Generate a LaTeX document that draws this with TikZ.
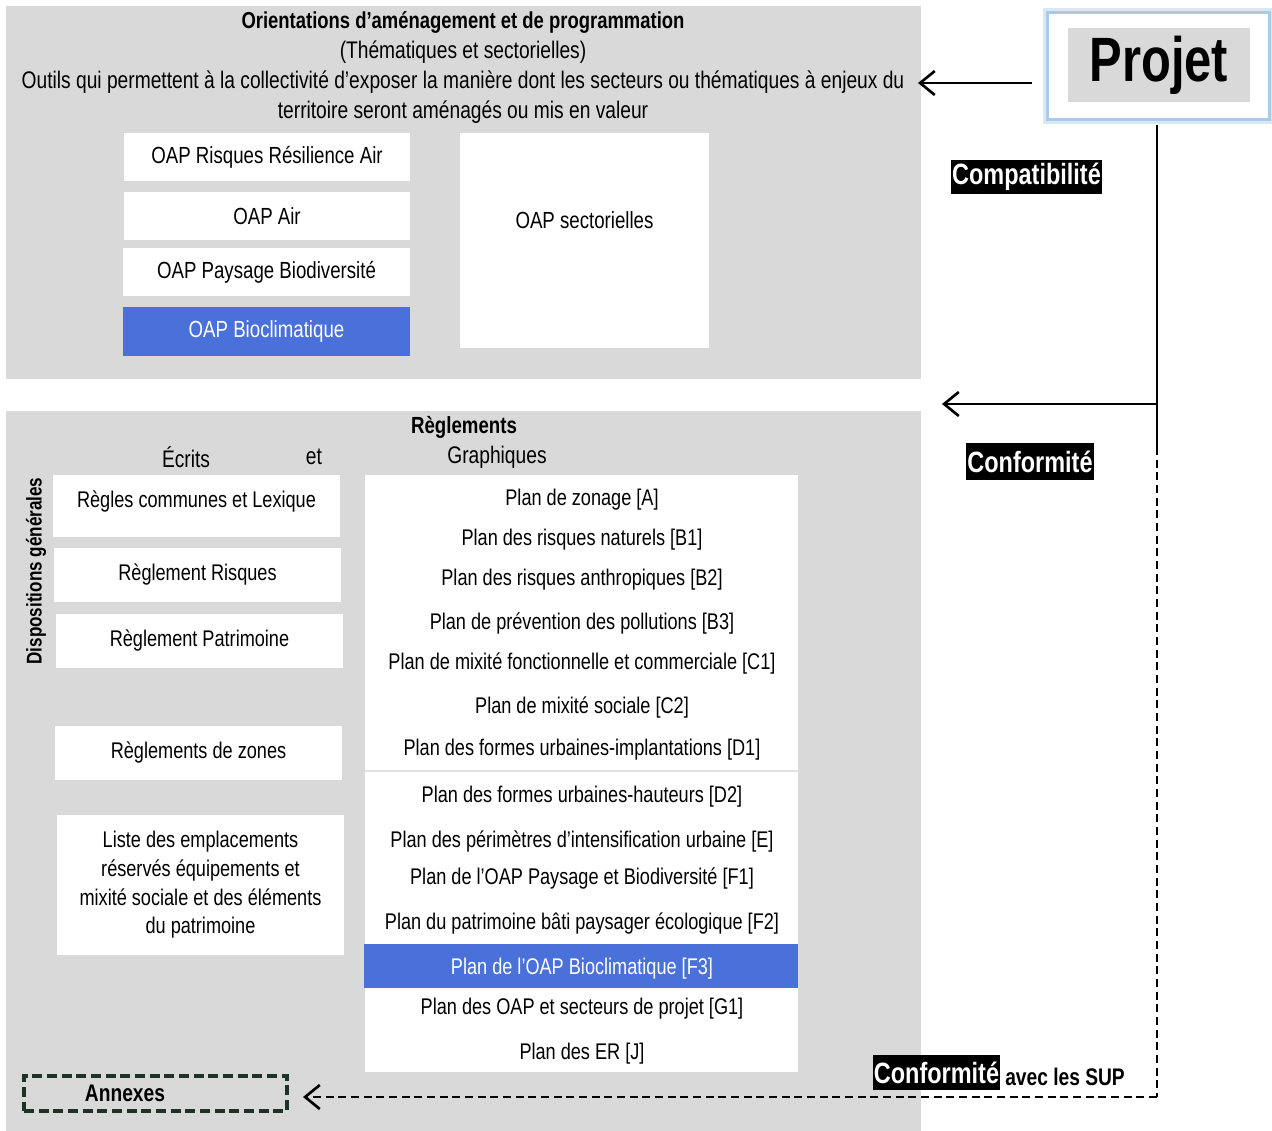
\documentclass[tikz,border=0pt]{standalone}
\usepackage{fontspec}
\setmainfont{Liberation Sans}[FakeStretch=0.80]
\newfontfamily\projetfont{Liberation Sans}[FakeStretch=0.78]
\usetikzlibrary{arrows.meta}
\definecolor{panel}{HTML}{D9D9D9}
\definecolor{blu}{HTML}{4A70DA}
\definecolor{glow}{HTML}{A9CBEA}
\definecolor{dkg}{HTML}{1C3326}
\definecolor{sep}{HTML}{E2E2E2}
\begin{document}
\begin{tikzpicture}[x=0.75pt,y=-0.75pt,
  every node/.style={font=\fontsize{17}{21.5}\selectfont, inner sep=0pt, text=black},
  panelbox/.style={fill=panel, draw=none, rectangle, inner sep=0pt},
  wbox/.style={fill=white, draw=none, rectangle, inner sep=0pt},
  bbox/.style={fill=blu, draw=none, rectangle, inner sep=0pt, text=white},
  oapbox/.style={font=\fontsize{17.5}{21}\selectfont},
  hdr/.style={font=\fontsize{18}{21}\selectfont},
  bw/.style={minimum width=#1*0.75pt},
  bh/.style={minimum height=#1*0.75pt},
  tag/.style={fill=black, text=white, font=\fontsize{22}{24}\bfseries\selectfont, inner xsep=1pt},
  tip/.style={-{Straight Barb[length=11pt,width=18pt,line width=2pt]}},
  arr/.style={line width=2pt, tip},
  dsh/.style={line width=2.2pt, dash pattern=on 6pt off 3.5pt},
  plan/.style={font=\fontsize{17}{21}\selectfont}
]
\useasboundingbox (0,0) rectangle (1272,1131);

% ---------- top panel ----------
\node[panelbox, bw=915, bh=373, anchor=north west] (oap) at (6,6) {};
\node[font=\fontsize{17.3}{21}\bfseries\selectfont] (t1) at (463,22) {Orientations d’aménagement et de programmation};
\node[hdr] (t2) at (463,52) {(Thématiques et sectorielles)};
\node[hdr] (t3) at (463,82) {Outils qui permettent à la collectivité d’exposer la manière dont les secteurs ou thématiques à enjeux du};
\node[hdr] (t4) at (463,112) {territoire seront aménagés ou mis en valeur};

\node[wbox, oapbox, bw=286, bh=48] (o1) at (267,157) {OAP Risques Résilience Air};
\node[wbox, oapbox, bw=286, bh=48] (o2) at (267,216) {OAP Air};
\node[wbox, oapbox, bw=287, bh=48] (o3) at (266.5,272) {OAP Paysage Biodiversité};
\node[bbox, oapbox, bw=287, bh=49] (o4) at (266.5,331.5) {OAP Bioclimatique};
\node[wbox, bw=249, bh=215, anchor=north west] (osec) at (460,133) {};
\node[oapbox] (osect) at (584.5,220) {OAP sectorielles};

% ---------- projet ----------
\node[fill=white, draw=glow, line width=4.5pt, opacity=0.45, minimum width=225*0.75pt, minimum height=110*0.75pt] (projetglow) at (1158.5,66) {};
\node[fill=white, draw=glow, line width=2.4pt, minimum width=222*0.75pt, minimum height=107*0.75pt] (projet) at (1158.5,66) {};
\node[fill=panel, minimum width=182*0.75pt, minimum height=74*0.75pt, font=\projetfont\fontsize{47}{50}\bfseries\selectfont] (projett) at (1159,65) {Projet};

% ---------- bottom panel ----------
\node[panelbox, bw=915, bh=720, anchor=north west] (reg) at (6,411) {};
\node[font=\fontsize{17.5}{21}\bfseries\selectfont] (r0) at (464,427) {Règlements};
\node[hdr] (ecr) at (186,457) {Écrits};
\node[hdr] (et) at (314,457) {et};
\node[hdr] (gra) at (497,457) {Graphiques};
\node[rotate=90, font=\fontsize{16}{19}\bfseries\selectfont] (disp) at (36,571) {Dispositions générales};

\node[wbox, bw=287, bh=62, anchor=north west] (e1) at (53,475) {};
\node (e1t) at (196.5,502) {Règles communes et Lexique};
\node[wbox, bw=287, bh=54] (e2) at (197.5,575) {Règlement Risques};
\node[wbox, bw=287, bh=54] (e3) at (199.5,641) {Règlement Patrimoine};
\node[wbox, bw=287, bh=54] (e4) at (198.5,753) {Règlements de zones};
\node[wbox, bw=287, bh=140, align=center] (e5) at (200.5,885) {Liste des emplacements\\réservés équipements et\\mixité sociale et des éléments\\du patrimoine};

% graphiques column
\node[wbox, bw=433, bh=597, anchor=north west] (gcol) at (365,475) {};
\draw[sep, line width=0.9pt] (gcol.west |- 0,771) -- (gcol.east |- 0,771);
\node[bbox, bw=434, bh=44, anchor=north west] (gf3box) at (364,944) {};
\node[plan] (pA) at (582,500) {Plan de zonage [A]};
\node[plan] (pB1) at (582,540) {Plan des risques naturels [B1]};
\node[plan] (pB2) at (582,580) {Plan des risques anthropiques [B2]};
\node[plan] (pB3) at (582,624) {Plan de prévention des pollutions [B3]};
\node[plan] (pC1) at (582,664) {Plan de mixité fonctionnelle et commerciale [C1]};
\node[plan] (pC2) at (582,708) {Plan de mixité sociale [C2]};
\node[plan] (pD1) at (582,750) {Plan des formes urbaines-implantations [D1]};
\node[plan] (pD2) at (582,797) {Plan des formes urbaines-hauteurs [D2]};
\node[plan] (pE) at (582,842) {Plan des périmètres d’intensification urbaine [E]};
\node[plan] (pF1) at (582,879) {Plan de l’OAP Paysage et Biodiversité [F1]};
\node[plan] (pF2) at (582,923) {Plan du patrimoine bâti paysager écologique [F2]};
\node[plan, text=white] (pF3) at (582,969) {Plan de l’OAP Bioclimatique [F3]};
\node[plan] (pG1) at (582,1009) {Plan des OAP et secteurs de projet [G1]};
\node[plan] (pJ) at (582,1054) {Plan des ER [J]};

% annexes
\node[draw=dkg, line width=2.4pt, dash pattern=on 7.5pt off 3.5pt, minimum width=263*0.75pt, minimum height=35*0.75pt] (ann) at (155.5,1093.5) {};
\node[font=\fontsize{18}{20}\bfseries\selectfont] (annt) at (125,1093) {Annexes};

% ---------- labels ----------
\node[tag, minimum width=151*0.75pt, minimum height=34*0.75pt] (compat) at (1026.5,177) {Compatibilité};
\node[tag, minimum width=128*0.75pt, minimum height=37*0.75pt] (conf1) at (1030,461.5) {Conformité};
\node[tag, minimum width=127*0.75pt, minimum height=35*0.75pt] (conf2) at (936.5,1072.5) {Conformité};
\node[anchor=base west, font=\fontsize{18}{20}\bfseries\selectfont] (sup) at (1005,1085) {avec les SUP};

% ---------- connectors ----------
\coordinate (s1) at (1032,83);
\coordinate (e1a) at (918,83);
\coordinate (v0) at (1157,125);
\coordinate (v1) at (1157,404);
\coordinate (v2) at (1157,447);
\coordinate (v3) at (1157,1097);
\coordinate (e2a) at (942,404);
\coordinate (e3a) at (303,1097);

\draw[arr] (s1) -- (e1a);
\draw[line width=2pt] (v0) -- (v2);
\draw[arr] (v1) -- (e2a);
\draw[dsh] (v2) -- (v3);
\draw[dsh, tip] (v3) -- (e3a);
\end{tikzpicture}
\end{document}
